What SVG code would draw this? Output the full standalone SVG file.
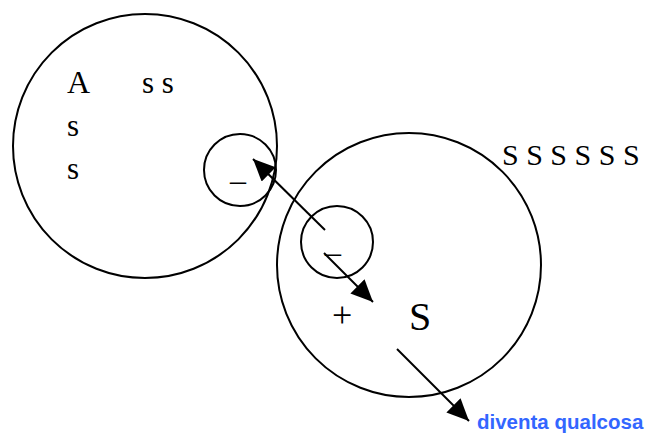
<svg xmlns="http://www.w3.org/2000/svg" width="650" height="434" viewBox="0 0 650 434">
<style>
.c{fill:none;stroke:#000;stroke-width:2}
.t{font-family:"Liberation Serif",serif;fill:#000}
.l{stroke:#000;stroke-width:2;fill:none}
</style>
<defs>
<marker id="ah" viewBox="0 0 22 20" refX="22" refY="10" markerWidth="22" markerHeight="20" markerUnits="userSpaceOnUse" orient="auto">
<path d="M0,0 L22,10 L0,20 Z" fill="#000"/>
</marker>
</defs>
<rect width="650" height="434" fill="#fff"/>
<g id="circleA">
<circle class="c" cx="145" cy="146" r="132"/>
<text class="t" x="67" y="93" font-size="32">A</text>
<text class="t" x="142" y="93" font-size="31">s s</text>
<text class="t" x="67" y="136" font-size="31">s</text>
<text class="t" x="67" y="179" font-size="31">s</text>
</g>
<g id="ionA">
<circle class="c" cx="240" cy="170" r="36"/>
<text class="t" x="230" y="191" font-size="32">–</text>
</g>
<g id="circleS">
<circle class="c" cx="409" cy="265" r="132"/>
<text class="t" x="332" y="327" font-size="36">+</text>
<text class="t" x="409" y="330" font-size="40">S</text>
</g>
<g id="ionS">
<circle class="c" cx="337" cy="242" r="36"/>
<text class="t" x="325" y="263" font-size="32">–</text>
</g>
<g id="sRow">
<text class="t" x="502" y="165" font-size="30">S S S S S S</text>
</g>
<g id="label">
<text x="477" y="429" font-family="Liberation Sans,Arial,sans-serif" font-weight="bold" font-size="20.5" fill="#3366FF">diventa qualcosa</text>
</g>
<g id="connectors">
<line class="l" x1="325" y1="230" x2="253" y2="159" marker-end="url(#ah)"/>
<line class="l" x1="324" y1="253" x2="373" y2="302" marker-end="url(#ah)"/>
<line class="l" x1="397" y1="349" x2="469" y2="421" marker-end="url(#ah)"/>
</g>
</svg>
